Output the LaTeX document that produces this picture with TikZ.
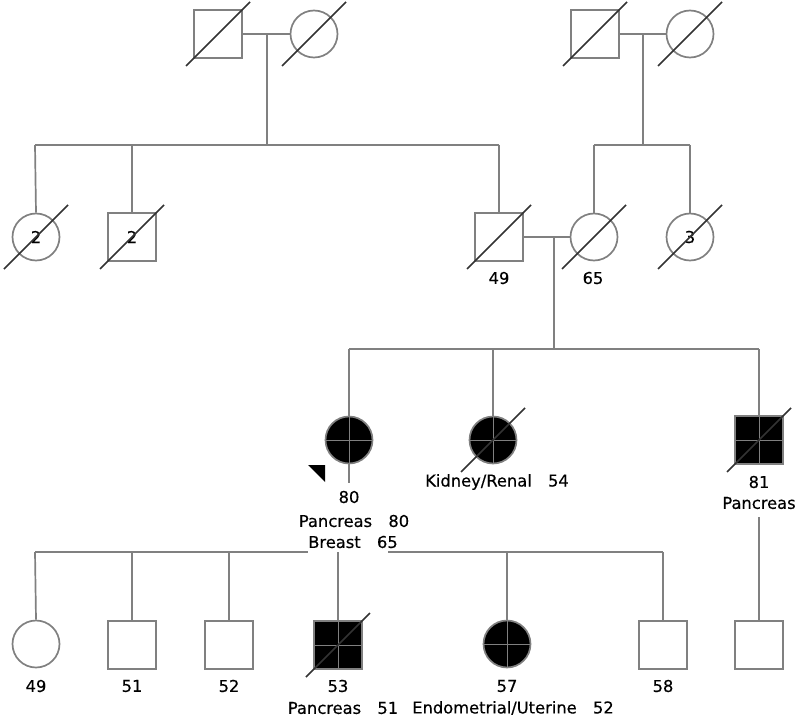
\documentclass[tikz,border=0pt]{standalone}
\usepackage{fontspec}
\setmainfont{DejaVu Sans}[FakeBold=0.4]
\definecolor{linegray}{HTML}{808080}
\definecolor{slashgray}{HTML}{333333}
\tikzset{
  male/.style={rectangle,draw=linegray,line width=1.7pt,minimum size=48pt,inner sep=0pt},
  female/.style={circle,draw=linegray,line width=1.7pt,minimum size=47pt,inner sep=0pt},
  affected/.style={fill=black},
  rel/.style={draw=linegray,line width=1.7pt},
  crossline/.style={draw=linegray,line width=1pt},
  slash/.style={draw=slashgray,line width=1.5pt},
  lbl/.style={inner sep=0pt,font=\fontsize{16.3}{18}\selectfont},
}
\newcommand{\deceased}[1]{\draw[slash] ([shift={(-32,32)}]#1.center) -- ([shift={(32,-32)}]#1.center);}
\newcommand{\affcross}[1]{\draw[crossline] (#1.north) -- (#1.south); \draw[crossline] (#1.west) -- (#1.east);}
\begin{document}
\begin{tikzpicture}[x=1pt,y=-1pt]
\useasboundingbox (0,0) rectangle (800,722);
% generation 1
\node[male] (g1a) at (218,34) {};
\node[female] (g1b) at (314,34) {};
\node[male] (g1c) at (595,34) {};
\node[female] (g1d) at (690,34) {};
\coordinate (m1) at (267,34);
\coordinate (m2) at (643,34);
\coordinate (s1) at (267,145);
\coordinate (s2) at (643,145);
\coordinate (s1l) at (35,145);
\coordinate (s1b) at (132,145);
\coordinate (s1r) at (499,145);
\coordinate (s2l) at (594,145);
\coordinate (s2r) at (690,145);
\draw[rel] (g1a.east) -- (g1b.west);
\draw[rel] (g1c.east) -- (g1d.west);
\draw[rel] (m1) -- (s1);
\draw[rel] (m2) -- (s2);
\draw[rel] (s1l) -- (s1r);
\draw[rel] (s2l) -- (s2r);
% generation 2
\node[female,lbl] (g2a) at (36,237) {2};
\node[male,lbl] (g2b) at (132,237) {2};
\node[male] (g2c) at (499,237) {};
\node[female] (g2d) at (594,237) {};
\node[female,lbl] (g2e) at (690,237) {3};
\draw[rel] (s1l) -- (g2a.north);
\draw[rel] (s1b) -- (g2b.north);
\draw[rel] (s1r) -- (g2c.north);
\draw[rel] (s2l) -- (g2d.north);
\draw[rel] (s2r) -- (g2e.north);
\draw[rel] (g2c.east) -- (g2d.west);
\node[lbl] (l49a) at (499,278) {49};
\node[lbl] (l65a) at (593,278) {65};
\coordinate (m3) at (554,237);
\coordinate (s3) at (554,349);
\coordinate (s3l) at (349,349);
\coordinate (s3m) at (493,349);
\coordinate (s3r) at (759,349);
\draw[rel] (m3) -- (s3);
\draw[rel] (s3l) -- (s3r);
% generation 3
\node[female,affected] (g3a) at (349,440) {};
\node[female,affected] (g3b) at (493,440) {};
\node[male,affected] (g3c) at (759,440) {};
\draw[rel] (s3l) -- (g3a.north);
\draw[rel] (s3m) -- (g3b.north);
\draw[rel] (s3r) -- (g3c.north);
\affcross{g3a}
\affcross{g3b}
\affcross{g3c}
\coordinate (pd) at (349,483);
\draw[rel] (g3a.south) -- (pd);
\fill[black] (308,465) coordinate (ar1) -- (325,465) coordinate (ar2) -- (325,482) coordinate (ar3) -- cycle;
\node[lbl] (l80) at (349,497) {80};
\node[lbl] (lpa) at (354,521) {Pancreas\hspace{1em}80};
\node[lbl] (lbr) at (353,542) {Breast\hspace{1em}65};
\node[lbl] (lkid) at (497,482) {Kidney/Renal\hspace{1em}54};
\node[lbl] (l81) at (759,482) {81};
\node[lbl] (lpb) at (759,503) {Pancreas};
% generation 4
\coordinate (s4a) at (35,552);
\coordinate (s4b) at (132,552);
\coordinate (s4c) at (229,552);
\coordinate (s4g) at (308,552);
\coordinate (s4h) at (388,552);
\coordinate (s4d) at (338,552);
\coordinate (s4e) at (507,552);
\coordinate (s4f) at (663,552);
\coordinate (d81) at (759,517);
\draw[rel] (s4a) -- (s4g);
\draw[rel] (s4h) -- (s4f);
\node[female] (g4a) at (36,644) {};
\node[male] (g4b) at (132,645) {};
\node[male] (g4c) at (229,645) {};
\node[male,affected] (g4d) at (338,645) {};
\node[female,affected] (g4e) at (507,644) {};
\node[male] (g4f) at (663,645) {};
\node[male] (g4g) at (759,645) {};
\draw[rel] (s4a) -- (g4a.north);
\draw[rel] (s4b) -- (g4b.north);
\draw[rel] (s4c) -- (g4c.north);
\draw[rel] (s4d) -- (g4d.north);
\draw[rel] (s4e) -- (g4e.north);
\draw[rel] (s4f) -- (g4f.north);
\draw[rel] (d81) -- (g4g.north);
\affcross{g4d}
\affcross{g4e}
\node[lbl] (l49b) at (36,686) {49};
\node[lbl] (l51) at (132,686) {51};
\node[lbl] (l52) at (229,686) {52};
\node[lbl] (l53) at (338,686) {53};
\node[lbl] (l57) at (507,686) {57};
\node[lbl] (l58) at (663,686) {58};
\node[lbl] (lpc) at (343,708) {Pancreas\hspace{1em}51};
\node[lbl] (lend) at (513,708) {Endometrial/Uterine\hspace{1em}52};
% deceased slashes
\deceased{g1a}
\deceased{g1b}
\deceased{g1c}
\deceased{g1d}
\deceased{g2a}
\deceased{g2b}
\deceased{g2c}
\deceased{g2d}
\deceased{g2e}
\deceased{g3b}
\deceased{g3c}
\deceased{g4d}
\end{tikzpicture}
\end{document}
